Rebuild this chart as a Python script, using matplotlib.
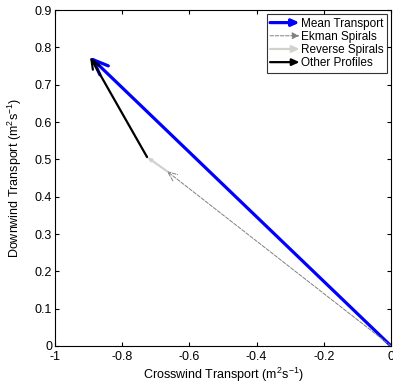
import matplotlib
matplotlib.use("Agg")
import matplotlib.pyplot as plt
from matplotlib.patches import FancyArrowPatch
from matplotlib.legend_handler import HandlerPatch
from matplotlib.ticker import FuncFormatter

plt.rcParams["font.family"] = ["Liberation Sans", "DejaVu Sans"]
plt.rcParams["mathtext.default"] = "regular"

# vectors: start (x, y) -> end (x, y), in m^2 s^-1
names = ["Mean Transport", "Ekman Spirals", "Reverse Spirals", "Other Profiles"]
x0 = [0.0, 0.0, -0.668, -0.726]
y0 = [0.0, 0.0, 0.469, 0.506]
x1 = [-0.896, -0.668, -0.726, -0.896]
y1 = [0.775, 0.469, 0.506, 0.775]

colors = ["#0000ff", "#808080", "#d2d2cc", "#000000"]
widths = [2.3, 0.7, 1.6, 1.6]
styles = ["-", "--", "-", "-"]
heads = [22, 14, 4, 14]

xticks = [-1, -0.8, -0.6, -0.4, -0.2, 0]
yticks = [0, 0.1, 0.2, 0.3, 0.4, 0.5, 0.6, 0.7, 0.8, 0.9]

fig = plt.figure(figsize=(3.93, 3.87), dpi=100)
ax = fig.add_axes([0.14, 0.106, 0.855, 0.868])

# draw Ekman, reverse, other, then mean on top
for i in [1, 2, 3, 0]:
    arr = FancyArrowPatch((x0[i], y0[i]), (x1[i], y1[i]),
                          arrowstyle="->,head_length=0.5,head_width=0.2",
                          mutation_scale=heads[i], color=colors[i],
                          lw=widths[i], linestyle=styles[i],
                          shrinkA=0, shrinkB=0, zorder=3 + i)
    ax.add_patch(arr)

legend_handles = []
for i in range(4):
    h = FancyArrowPatch((0, 0), (1, 0), arrowstyle="-|>,head_length=0.55,head_width=0.25",
                        mutation_scale=10, color=colors[i], lw=widths[i],
                        linestyle=styles[i])
    legend_handles.append(h)


def make_arrow(legend, orig_handle, xdescent, ydescent, width, height, fontsize):
    return FancyArrowPatch((0, height / 2), (width, height / 2),
                           arrowstyle=orig_handle.get_arrowstyle(),
                           mutation_scale=8, color=orig_handle.get_edgecolor(),
                           lw=orig_handle.get_linewidth(),
                           linestyle=orig_handle.get_linestyle(),
                           shrinkA=0, shrinkB=0)


leg = ax.legend(legend_handles, names, loc="upper right",
                handler_map={FancyArrowPatch: HandlerPatch(patch_func=make_arrow)},
                fontsize=8.5, frameon=True, fancybox=False, edgecolor="black",
                handlelength=2.5, handletextpad=0.1, borderpad=0.3,
                labelspacing=0.1, borderaxespad=0.35)
leg.get_frame().set_linewidth(0.8)

ax.set_xlim(-1, 0)
ax.set_ylim(0, 0.9)
ax.set_xticks(xticks)
ax.set_yticks(yticks)
ax.xaxis.set_major_formatter(FuncFormatter(lambda v, p: f"{v:g}"))
ax.yaxis.set_major_formatter(FuncFormatter(lambda v, p: f"{v:g}"))
ax.tick_params(direction="in", top=True, right=True, length=3, labelsize=9, pad=2)
ax.tick_params(axis="x", pad=3.5)
for s in ax.spines.values():
    s.set_linewidth(0.8)

ax.set_xlabel("Crosswind Transport (m$^2$s$^{-1}$)", fontsize=9, labelpad=2)
ax.set_ylabel("Downwind Transport (m$^2$s$^{-1}$)", fontsize=9, labelpad=8)

fig.savefig("out.png", dpi=100)
